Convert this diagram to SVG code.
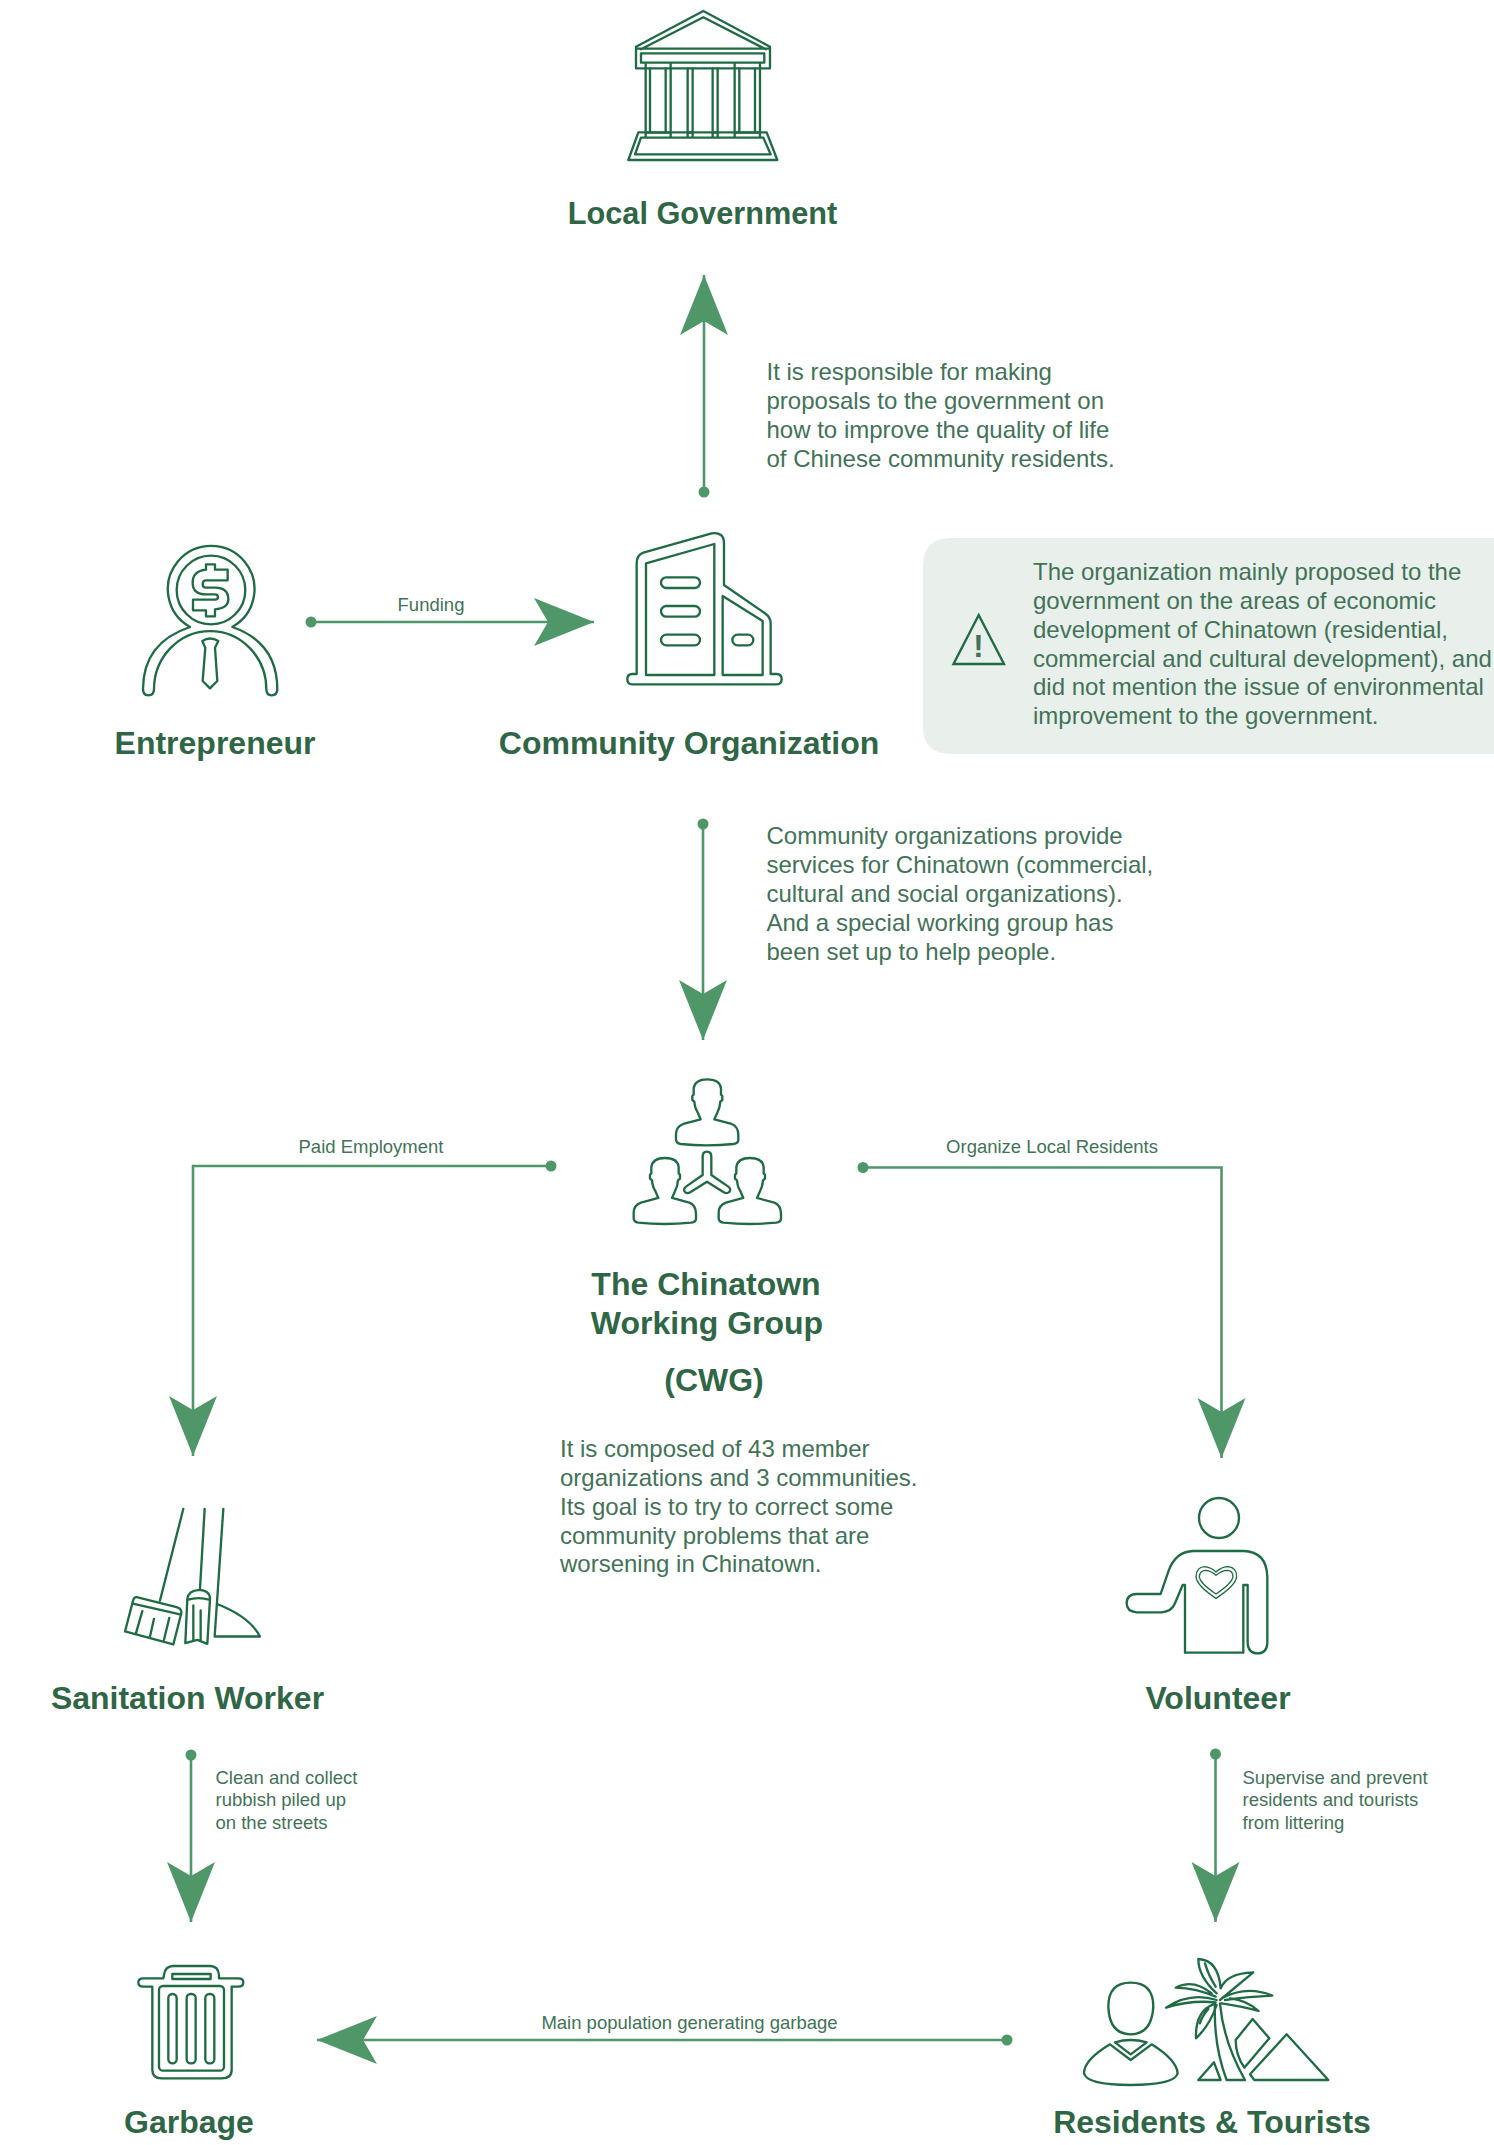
<svg xmlns="http://www.w3.org/2000/svg" xmlns:xlink="http://www.w3.org/1999/xlink" width="1494" height="2145" viewBox="0 0 1494 2145">
<style>
text{font-family:"Liberation Sans",Arial,sans-serif;fill:#427357}
.t{font-size:32px;font-weight:700;fill:#2f6746;text-anchor:middle}
.b{font-size:24px}
.s{font-size:18.500px}
.m{text-anchor:middle}
.i{fill:none;stroke:#1f6b43;stroke-width:7;stroke-linejoin:round;stroke-linecap:round}
.c{fill:none;stroke:#4f9668;stroke-width:2.600;marker-start:url(#dot);marker-end:url(#arr)}
</style>
<defs>
<marker id="arr" markerUnits="userSpaceOnUse" markerWidth="60" markerHeight="50" refX="60" refY="25" orient="auto"><path d="M0,1 L60,25 L0,49 L14,25Z" fill="#4f9668"/></marker>
<marker id="dot" markerUnits="userSpaceOnUse" markerWidth="12" markerHeight="12" refX="6" refY="6"><circle cx="6" cy="6" r="5.500" fill="#4f9668"/></marker>
<path id="person" d="M272,178 L262,155 Q255,145 253,125 L247,120 V108 L251,104 V85 Q255,58 292,58 Q330,58 333,85 V104 L337,108 V120 L331,125 Q330,142 322,158 L313,178 L365,192 Q385,200 385,225 V240 Q385,250 370,252 Q290,260 212,252 Q198,250 198,238 V222 Q198,200 220,192 Z"/>
</defs>
<rect width="1494" height="2145" fill="#fff"/>
<g id="connectors">
<path class="c" d="M704,492V275"/>
<path class="c" d="M311,622H594"/>
<path class="c" d="M703,824V1040"/>
<path class="c" d="M551,1166H193V1456"/>
<path class="c" d="M863,1167.500H1221.500V1458"/>
<path class="c" d="M191,1755V1922"/>
<path class="c" d="M1215.500,1754V1922"/>
<path class="c" d="M1007,2040H317"/>
<text class="s m" x="431" y="611">Funding</text>
<text class="s m" x="371" y="1153">Paid Employment</text>
<text class="s m" x="1052" y="1153">Organize Local Residents</text>
<text class="s m" x="689.500" y="2029">Main population generating garbage</text>
<text class="b" x="766.500" y="380">It is responsible for making</text>
<text class="b" x="766.500" y="409">proposals to the government on</text>
<text class="b" x="766.500" y="438">how to improve the quality of life</text>
<text class="b" x="766.500" y="467">of Chinese community residents.</text>
<text class="b" x="766.500" y="844">Community organizations provide</text>
<text class="b" x="766.500" y="873">services for Chinatown (commercial,</text>
<text class="b" x="766.500" y="902">cultural and social organizations).</text>
<text class="b" x="766.500" y="930.500">And a special working group has</text>
<text class="b" x="766.500" y="960">been set up to help people.</text>
<text class="s" x="215.500" y="1784">Clean and collect</text>
<text class="s" x="215.500" y="1806">rubbish piled up</text>
<text class="s" x="215.500" y="1828.500">on the streets</text>
<text class="s" x="1242.500" y="1784">Supervise and prevent</text>
<text class="s" x="1242.500" y="1806">residents and tourists</text>
<text class="s" x="1242.500" y="1828.500">from littering</text>
</g>
<g id="local-government">
<g class="i" transform="translate(560,0) scale(.3333)">
<path d="M228,140 L430,33 L630,140 V205 H228 Z M243,148 L430,52 L618,148 M228,146 H630"/>
<rect x="243" y="160" width="370" height="28"/>
<path d="M257,192V410 M270,205V398 M317,205V398 M332,192V410 M383,205V410 M398,205V410 M458,205V410 M473,205V410 M524,192V410 M538,205V398 M585,205V398 M600,192V410 M257,398H332 M383,398H398 M458,398H473 M524,398H600"/>
<path d="M235,397 H620 L652,480 H205 Z M243,413 H610 L632,463 H225 Z"/>
</g>
<text class="t" style="font-size:30.700px" x="702.500" y="224">Local Government</text>
</g>
<g id="entrepreneur">
<g class="i" transform="translate(100,521) scale(.3333)">
<path d="M270,318 A130,130 0 1 1 397,318 Q532,365 532,505 Q532,523 515,523 Q499,523 499,505 A166,172 0 0 0 162,505 Q162,523 145,523 Q129,523 129,505 Q129,365 270,318 Z"/>
<circle cx="333" cy="207" r="103"/>
<path d="M318,130 H345 V146 H383 V178 H318 Q308,178 308,190 Q308,200 318,200 H345 Q385,200 385,235 Q385,262 345,265 V286 H318 V268 H279 V236 H345 Q354,236 354,228 Q354,220 345,220 H318 Q278,220 278,185 Q278,150 318,146 Z"/>
<path d="M307,360 Q330,345 355,360 L345,380 L352,480 L330,502 L308,480 L316,380Z"/>
</g>
<text class="t" x="215" y="754">Entrepreneur</text>
</g>
<g id="community-organization">
<g class="i" transform="translate(600,520) scale(.3333)">
<path d="M110,462 V130 Q110,105 130,98 L335,40 Q372,35 372,70 V195 L495,280 Q512,292 512,310 V462 H530 Q545,462 545,477 Q545,493 530,493 H97 Q82,493 82,477 Q82,462 97,462 Z"/>
<path d="M138,465 V130 L343,72 V465 Z M368,465 V228 L488,303 V465 Z"/>
<rect x="183" y="172" width="117" height="32" rx="16"/>
<rect x="183" y="258" width="117" height="32" rx="16"/>
<rect x="183" y="344" width="117" height="32" rx="16"/>
<rect x="397" y="344" width="63" height="32" rx="16"/>
</g>
<text class="t" x="689" y="754">Community Organization</text>
</g>
<g id="note">
<path d="M1494,538H951Q923,538 923,566V726Q923,754 951,754H1494Z" fill="#e9f0eb"/>
<path d="M978.700,615 L1004,664 H953.500 Z" fill="none" stroke="#1f6b43" stroke-width="2.400"/>
<text x="978.500" y="657" font-size="31" font-weight="700" text-anchor="middle">!</text>
<text class="b" x="1033" y="580">The organization mainly proposed to the</text>
<text class="b" x="1033" y="609">government on the areas of economic</text>
<text class="b" x="1033" y="638">development of Chinatown (residential,</text>
<text class="b" x="1033" y="667">commercial and cultural development), and</text>
<text class="b" x="1033" y="695">did not mention the issue of environmental</text>
<text class="b" x="1033" y="724">improvement to the government.</text>
</g>
<g id="chinatown-working-group">
<g class="i" transform="translate(610,1060) scale(.3333)">
<use xlink:href="#person" href="#person"/>
<use xlink:href="#person" href="#person" x="-127" y="236"/>
<use xlink:href="#person" href="#person" x="128" y="236"/>
<path d="M278,290 Q278,275 291,275 Q304,275 304,290 V345 L355,380 Q365,388 358,396 Q350,403 340,396 L291,365 L242,396 Q232,403 225,396 Q218,388 228,380 L278,345 Z"/>
</g>
<text class="t" x="706" y="1295">The Chinatown</text>
<text class="t" x="707" y="1334">Working Group</text>
<text class="t" x="714" y="1390.500">(CWG)</text>
<text class="b" x="560" y="1457">It is composed of 43 member</text>
<text class="b" x="560" y="1486">organizations and 3 communities.</text>
<text class="b" x="560" y="1515">Its goal is to try to correct some</text>
<text class="b" x="560" y="1544">community problems that are</text>
<text class="b" x="560" y="1572">worsening in Chinatown.</text>
</g>
<g id="sanitation-worker">
<g class="i" transform="translate(110,1490.500) scale(.3333)">
<path d="M220,55 L150,330 M80,320 L200,350 Q218,355 213,372 L190,462 L45,423 L68,335 Q72,318 80,320Z M72,340 L210,372 M97,362 L78,428 M132,385 L120,438 M178,382 L162,448"/>
<path d="M284,55 L270,295 M232,325 Q235,300 268,298 Q300,300 300,325 L292,460 L262,448 L226,458Z M232,328 Q265,318 300,328 M250,345 V450 M272,360 V450"/>
<path d="M340,55 L314,438 H450 Q420,380 325,342"/>
</g>
<text class="t" x="187.500" y="1709">Sanitation Worker</text>
</g>
<g id="volunteer">
<g class="i" transform="translate(1110,1490) scale(.3333)">
<circle cx="327" cy="84" r="60"/>
<path d="M225,488 V285 H218 L195,340 Q185,365 155,367 H80 Q50,365 50,340 Q50,313 80,312 H152 L175,245 Q195,185 250,183 H400 Q470,185 472,260 V460 Q470,490 443,490 Q415,490 413,460 V285 H400 V488 Z"/>
<path stroke-width="4" d="M318,246 Q335,230 355,230 Q380,233 380,260 Q377,287 318,325 Q260,287 258,260 Q260,230 285,230 Q305,233 318,246Z"/>
<path stroke-width="4" d="M318,256 Q335,241 353,241 Q369,243 369,260 Q366,280 318,312 Q270,280 268,260 Q270,241 287,241 Q305,243 318,256Z"/>
</g>
<text class="t" x="1218" y="1709">Volunteer</text>
</g>
<g id="garbage">
<g class="i" transform="translate(120,1950) scale(.3333)">
<path d="M130,85 H70 Q55,85 55,97 Q55,110 70,110 H97 V360 Q97,385 125,385 H305 Q335,385 335,360 V110 H355 Q370,110 370,97 Q370,85 355,85 H297 V75 Q295,48 270,48 H160 Q135,48 132,75 Z"/>
<rect x="157" y="72" width="115" height="15"/>
<rect x="117" y="108" width="195" height="254" rx="12"/>
<rect x="145" y="132" width="25" height="208" rx="12"/>
<rect x="200" y="132" width="27" height="208" rx="12"/>
<rect x="256" y="132" width="27" height="208" rx="12"/>
</g>
<text class="t" x="189" y="2133">Garbage</text>
</g>
<g id="residents-tourists">
<g class="i" transform="translate(1070,1945) scale(.3333)">
<path d="M182,113 Q250,113 250,185 Q245,268 182,268 Q118,268 115,185 Q115,113 182,113Z"/>
<path d="M120,298 Q42,345 42,385 Q50,420 180,420 Q315,420 323,385 Q320,345 245,298 L182,345 Z M135,292 Q182,278 230,292 L182,328Z"/>
<path d="M435,175 Q430,300 470,405 H525 Q460,290 450,175"/>
<path d="M440,145 Q385,95 385,42 Q445,45 452,130 M405,55 Q415,90 437,125 M452,130 Q470,85 550,82 Q510,115 450,165 M455,160 Q530,120 607,152 Q540,155 465,165 M480,160 Q530,165 566,198 Q520,185 455,175 M425,145 Q370,100 317,128 Q380,130 437,155 M440,165 Q360,140 288,188 Q360,165 437,172 M430,178 Q375,200 378,280 Q420,240 440,180 M415,192 Q395,215 390,235"/>
<path d="M385,405 L432,352 L452,405Z M548,222 L598,280 L523,368 Q497,330 497,285Z M650,268 L775,405 H553 L540,388Z"/>
</g>
<text class="t" x="1212" y="2133">Residents &amp; Tourists</text>
</g>
</svg>
